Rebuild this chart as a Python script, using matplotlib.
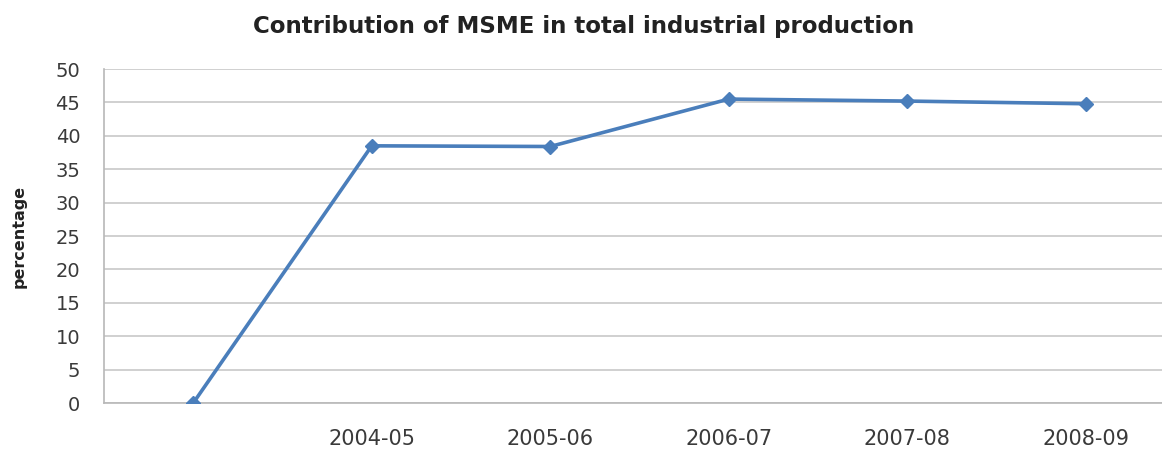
import matplotlib
matplotlib.use("Agg")
import matplotlib.pyplot as plt

# data
years = ["", "2004-05", "2005-06", "2006-07", "2007-08", "2008-09"]
contribution = [0, 38.5, 38.4, 45.5, 45.2, 44.8]
y_ticks = list(range(0, 51, 5))

plt.rcParams['font.family'] = ['DejaVu Sans']

fig = plt.figure(figsize=(11.62, 4.49), dpi=100)
ax = fig.add_axes([0.0895, 0.1024, 0.9217, 0.7439])

x = list(range(len(years)))
ax.plot(x, contribution, color='#4a7ebb', lw=2.6, marker='D', ms=7,
        markerfacecolor='#4a7ebb', markeredgecolor='#4a7ebb', zorder=3)

ax.set_xlim(-0.5, len(years) - 0.5)
ax.set_ylim(0, 50)
ax.set_yticks(y_ticks)
ax.set_xticks(x)
ax.set_xticklabels(years)
ax.yaxis.grid(True, color='#c8c8c8', lw=1.2)
ax.set_axisbelow(True)
ax.tick_params(axis='y', length=0, pad=17, labelsize=14, labelcolor='#3a3a3a')
ax.tick_params(axis='x', length=0, pad=19, labelsize=15, labelcolor='#3a3a3a')

for side in ['top', 'right']:
    ax.spines[side].set_visible(False)
for side in ['left', 'bottom']:
    ax.spines[side].set_color('#b8b8b8')
    ax.spines[side].set_linewidth(1.2)

fig.text(0.01, 0.5 * (0.1024 + 0.8463), 'percentage', rotation=90,
         ha='left', va='center', fontsize=11.5, fontweight='bold', color='#222222')
fig.text(0.502, 0.94, 'Contribution of MSME in total industrial production',
         ha='center', va='center', fontsize=16.5, fontweight='bold', color='#222222')

fig.savefig('out.png', dpi=100)
